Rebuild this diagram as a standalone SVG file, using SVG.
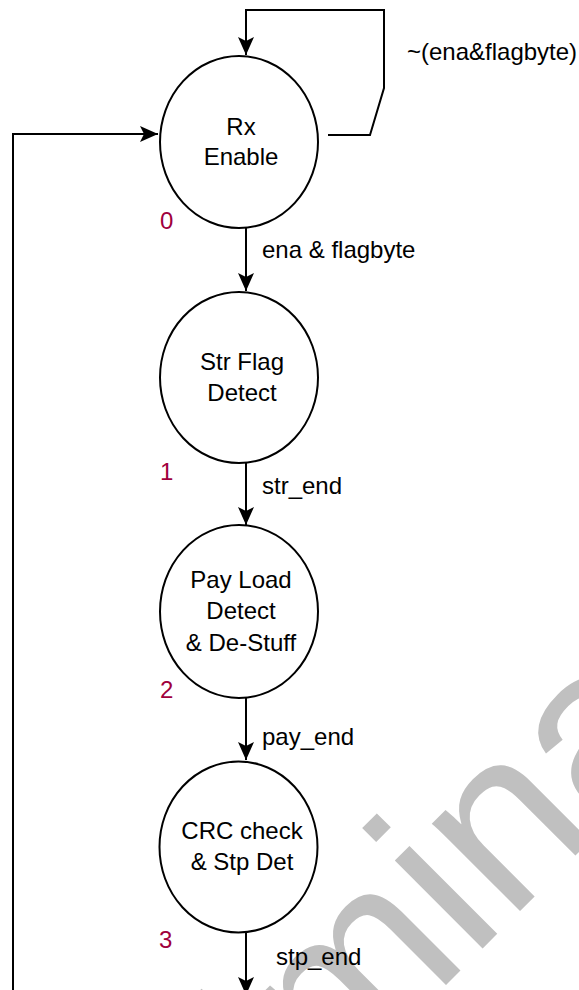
<svg xmlns="http://www.w3.org/2000/svg" width="579" height="990" viewBox="0 0 579 990">
  <style>
    .state { fill: #ffffff; stroke: #000000; stroke-width: 2; }
    .lbl { font-family: "Liberation Sans", Arial, sans-serif; font-size: 24px; fill: #000000; }
    .ctr { text-anchor: middle; }
    .num { font-family: "Liberation Sans", Arial, sans-serif; font-size: 24px; fill: #a0003c; }
    .edge { fill: none; stroke: #000000; stroke-width: 2; }
    .wm { font-family: "Liberation Sans", Arial, sans-serif; font-size: 235px; fill: #c0c0c0; }
  </style>
  <defs>
    <marker id="arrow" markerUnits="userSpaceOnUse" markerWidth="20" markerHeight="20" viewBox="-19 -10 20 20" refX="0" refY="0" orient="auto">
      <path d="M0,0 L-18,-8 L-14,0 L-18,8 Z" fill="#000000"/>
    </marker>
  </defs>
  <rect x="0" y="0" width="579" height="990" fill="#ffffff"/>

  <g id="watermark">
    <text class="wm" transform="translate(490,941) rotate(-45)" x="-692" y="0">Preliminary</text>
  </g>

  <g id="connectors">
    <path class="edge" d="M328,135 L370,135 L384,88 L384,10 L246,10 L246,55" marker-end="url(#arrow)"/>
    <path class="edge" d="M13,995 L13,134 L158,134" marker-end="url(#arrow)"/>
    <path class="edge" d="M246,228 L246,291" marker-end="url(#arrow)"/>
    <path class="edge" d="M246,463 L246,525" marker-end="url(#arrow)"/>
    <path class="edge" d="M246,698 L246,760" marker-end="url(#arrow)"/>
    <path class="edge" d="M246,933 L246,995" marker-end="url(#arrow)"/>
    <text class="lbl" x="407" y="60">~(ena&amp;flagbyte)</text>
    <text class="lbl" x="262" y="258">ena &amp; flagbyte</text>
    <text class="lbl" x="262" y="494">str_end</text>
    <text class="lbl" x="262" y="745">pay_end</text>
    <text class="lbl" x="276" y="965">stp_end</text>
  </g>

  <g id="state0">
    <ellipse class="state" cx="239" cy="142" rx="79" ry="86"/>
    <text class="lbl ctr" x="241" y="135">Rx</text>
    <text class="lbl ctr" x="241" y="165">Enable</text>
    <text class="num" x="160" y="229">0</text>
  </g>

  <g id="state1">
    <ellipse class="state" cx="239" cy="377.5" rx="79" ry="85.5"/>
    <text class="lbl ctr" x="242" y="370">Str Flag</text>
    <text class="lbl ctr" x="242" y="401">Detect</text>
    <text class="num" x="160" y="480">1</text>
  </g>

  <g id="state2">
    <ellipse class="state" cx="239" cy="611.5" rx="79" ry="86.5"/>
    <text class="lbl ctr" x="241" y="588">Pay Load</text>
    <text class="lbl ctr" x="241" y="619">Detect</text>
    <text class="lbl ctr" x="241" y="651">&amp; De-Stuff</text>
    <text class="num" x="160" y="698">2</text>
  </g>

  <g id="state3">
    <ellipse class="state" cx="238.5" cy="847" rx="79" ry="85.5"/>
    <text class="lbl ctr" x="242" y="839">CRC check</text>
    <text class="lbl ctr" x="242" y="870">&amp; Stp Det</text>
    <text class="num" x="159" y="948">3</text>
  </g>
</svg>
